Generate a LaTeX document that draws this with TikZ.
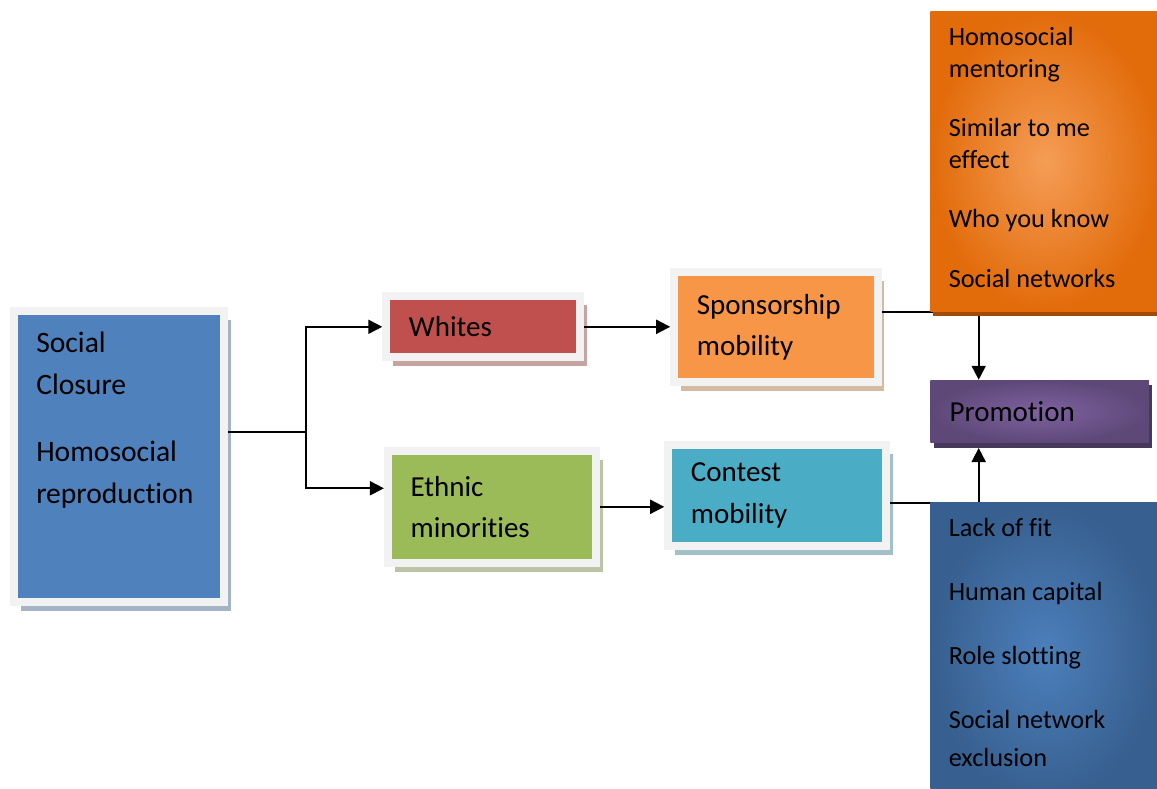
\documentclass[tikz,border=0pt]{standalone}
\usepackage{fontspec}
\setmainfont[Ligatures=NoCommon]{Carlito}
\usetikzlibrary{arrows.meta,shadows}
\definecolor{framegray}{HTML}{F2F2F2}
\definecolor{closurefill}{HTML}{4F81BD}
\definecolor{whitesfill}{HTML}{C0504D}
\definecolor{sponsorfill}{HTML}{F79646}
\definecolor{ethnicfill}{HTML}{9BBB59}
\definecolor{contestfill}{HTML}{4BACC6}
\definecolor{favourin}{HTML}{F59D56}
\definecolor{favourout}{HTML}{E26B0A}
\definecolor{favourshade}{HTML}{A24B06}
\definecolor{promoin}{HTML}{7E62A0}
\definecolor{promoout}{HTML}{5E4878}
\definecolor{promoshade}{HTML}{46395A}
\definecolor{barrierin}{HTML}{4C7FBB}
\definecolor{barrierout}{HTML}{375F8F}
\tikzset{>={Triangle[length=10.5pt,width=10.5pt]}}
\tikzset{
    panel/.style={draw=framegray, line width=6pt, fill=#1, align=left,
        inner xsep=17pt, inner ysep=0pt,
        drop shadow={shadow xshift=5pt, shadow yshift=-6.8pt, fill=#1!50!gray!60, opacity=1},
        font=\fontsize{21.75}{31}\selectfont},
    glow/.style 2 args={inner color=#1, outer color=#2, anchor=north west},
    listtext/.style={anchor=north west, inner sep=0pt, align=left},
    link/.style={line width=1.4pt}
}

\begin{document}
\begin{tikzpicture}[x=0.75pt,y=-0.75pt]
    \useasboundingbox (0,0) rectangle (1157,789);
    \node[panel=closurefill, minimum width=157.3pt, minimum height=218.5pt] (closure) at (119.2,456.7) {};
    \node[listtext, font=\fontsize{22.2}{31.3}\selectfont] (closure-text) at (36,332)
        {Social\\Closure\\[19pt]Homosocial\\reproduction};
    \node[panel=whitesfill, text width=111.2pt, minimum height=45.75pt] (whites) at (483.1,326.8) {Whites};
    \node[panel=sponsorfill, text width=118.7pt, minimum height=82.7pt] (sponsor) at (776,327.2) {Sponsorship\\mobility};
    \node[panel=ethnicfill, text width=122.1pt, minimum height=83.8pt] (ethnic) at (492,506.8) {Ethnic\\minorities};
    \node[panel=contestfill, text width=129.6pt, minimum height=76pt] (contest) at (777.3,495.3) {Contest\\mobility};
    \node[inner color=promoin, outer color=promoout, anchor=west, minimum width=164pt, minimum height=47pt,
        inner xsep=14.5pt, text width=135pt, align=left, font=\fontsize{21.75}{26}\selectfont,
        drop shadow={shadow xshift=2.5pt, shadow yshift=-3.75pt, fill=promoshade, opacity=1}] (promo) at (930,411.4) {Promotion};

    \coordinate (split) at (305.7,431.7);
    \coordinate (tap) at (978.7,312);
    \coordinate (join) at (978.7,502.7);
    \draw[link] (closure.east |- split) -- (split);
    \draw[link,->] (split) |- (whites);
    \draw[link,->] (split) |- ([yshift=13.9pt]ethnic.west);
    \draw[link,->] (whites.east) -- (whites.east -| sponsor.west);
    \draw[link,->] (ethnic.east) -- (ethnic.east -| contest.west);
    \draw[link,->] (sponsor.east |- tap) -- (tap) -- (tap |- promo.north);
    \draw[link,->] (contest.east |- join) -- (join) -- ([yshift=-3.75pt]join |- promo.south);

    \node[glow={favourin}{favourout}, minimum width=172.5pt, minimum height=225.5pt,
        drop shadow={shadow xshift=2pt, shadow yshift=-3pt, fill=favourshade, opacity=1}] (favour) at (930,11) {};
    \node[listtext, font=\fontsize{19.7}{23.6}\selectfont] (favour-text) at (948.5,27.3)
        {Homosocial\\mentoring\\[21pt]Similar to me\\effect\\[21pt]Who you know\\[21pt]Social networks};
    \node[glow={barrierin}{barrierout}, minimum width=172.5pt, minimum height=225pt] (barrier) at (930,502) {};
    \node[listtext, font=\fontsize{19.7}{28.3}\selectfont] (barrier-text) at (948.5,518.3)
        {Lack of fit\\[19.7pt]Human capital\\[19.7pt]Role slotting\\[19.7pt]Social network\\exclusion};
\end{tikzpicture}
\end{document}
